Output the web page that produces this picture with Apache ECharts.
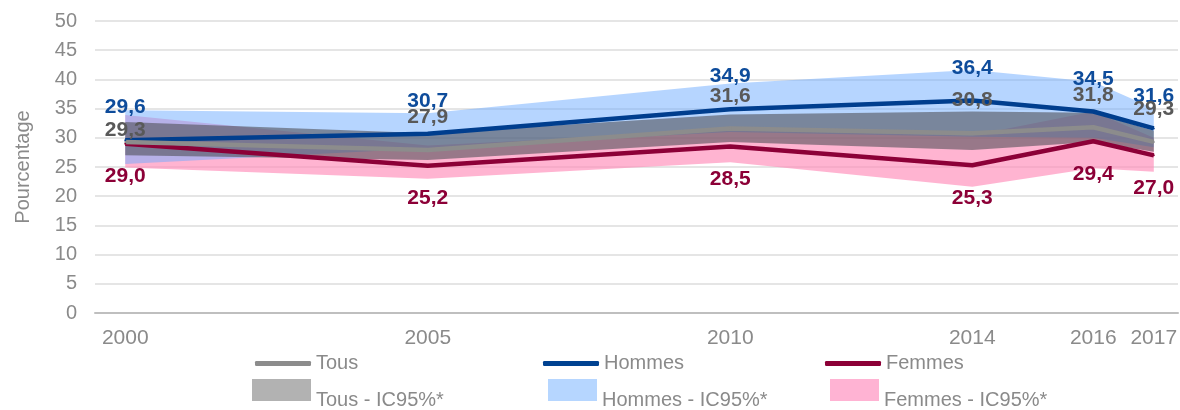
<!DOCTYPE html>
<html>
<head>
<meta charset="utf-8">
<script src="https://cdn.jsdelivr.net/npm/echarts@6/dist/echarts.min.js"></script>
<style>
html,body{margin:0;padding:0;background:#fff;}
#chart{width:1180px;height:410px;}
</style>
</head>
<body>
<div id="chart"></div>
<script>
// ---- data ----
const years = [2000, 2005, 2010, 2014, 2016, 2017];
const tickYears = [2000, 2005, 2010, 2014, 2016, 2017];
const tous = [29.3, 27.9, 31.6, 30.8, 31.8, 29.3];
const hommes = [29.6, 30.7, 34.9, 36.4, 34.5, 31.6];
const femmes = [29.0, 25.2, 28.5, 25.3, 29.4, 27.0];
const tousLow = [27.0, 26.2, 29.3, 27.9, 29.3, 27.6];
const tousHigh = [32.7, 30.8, 34.0, 34.5, 34.3, 31.2];
const hommesLow = [25.5, 28.2, 31.0, 30.2, 30.0, 28.4];
const hommesHigh = [34.7, 34.2, 39.3, 41.6, 39.6, 35.0];
const femmesLow = [24.9, 23.0, 25.8, 21.6, 24.8, 24.2];
const femmesHigh = [33.9, 28.7, 31.3, 30.4, 34.5, 30.0];

const FONT = '"Liberation Sans", Arial, sans-serif';
const TXT = '#8a8a8a';

function pts(vals) { return years.map((y, i) => [y, vals[i]]); }
const fmt = p => p.value[1].toFixed(1).replace('.', ',');

function band(name, lo, hi, color) {
  return {
    type: 'custom', name: name, silent: true,
    data: years.map((y, i) => [y, lo[i], hi[i]]),
    encode: { x: 0, y: [1, 2] },
    itemStyle: { color: color },
    renderItem: function (params, api) {
      if (params.dataIndex !== 0) return;
      const top = years.map((y, i) => api.coord([y, hi[i]]));
      const bot = years.map((y, i) => api.coord([y, lo[i]])).reverse();
      return { type: 'polygon', shape: { points: top.concat(bot) }, style: { fill: color } };
    },
    animation: false
  };
}
function line(name, vals, color, labelColor, pos, firstDist) {
  return {
    type: 'line', name: name,
    data: pts(vals).map((d, i) => (i === 0 && firstDist !== undefined)
      ? { value: d, label: { distance: firstDist } } : { value: d }),
    symbol: 'circle', symbolSize: 2, showSymbol: true,
    itemStyle: { color: color },
    lineStyle: { color: color, width: 4.5 },
    label: { show: true, position: pos, distance: 21, formatter: fmt,
      color: labelColor, fontFamily: FONT, fontWeight: 'bold', fontSize: 21 },
    animation: false
  };
}

const series = [
  band('Femmes - IC95%*', femmesLow, femmesHigh, 'rgba(255,140,185,0.65)'),
  band('Hommes - IC95%*', hommesLow, hommesHigh, 'rgba(110,172,255,0.5)'),
  line('Femmes', femmes, '#8c0037', '#8c0037', 'bottom'),
  line('Hommes', hommes, '#003e8e', '#0e4c9b', 'top'),
  band('Tous - IC95%*', tousLow, tousHigh, 'rgba(78,78,84,0.58)'),
  line('Tous', tous, '#8c8c8c', '#595959', 'top', 0)
];

function leg(name, icon, w, h, color, left, top, twoLine) {
  return {
    data: [{ name: name, icon: icon, itemStyle: { color: color, borderWidth: 0 } }],
    left: left, top: top, padding: 0, itemWidth: w, itemHeight: h, itemGap: 0,
    selectedMode: false,
    formatter: twoLine ? (n => '\n' + n) : (n => n),
    textStyle: { color: TXT, fontFamily: FONT, fontSize: 20, lineHeight: twoLine ? 20 : 23 }
  };
}

const option = {
  animation: false,
  backgroundColor: '#fff',
  grid: { left: 95, right: 2, top: 21, bottom: 97, containLabel: false, outerBoundsMode: 'none' },
  xAxis: {
    type: 'value', min: 1999.5, max: 2017.4,
    axisLine: { show: true, lineStyle: { color: '#bfbfbf', width: 2 } },
    axisTick: { show: false },
    splitLine: { show: false },
    axisLabel: { customValues: tickYears, color: TXT, fontFamily: FONT, fontSize: 21, margin: 15,
      formatter: v => String(v) }
  },
  yAxis: {
    type: 'value', min: 0, max: 50, interval: 5,
    name: 'Pourcentage', nameLocation: 'middle', nameGap: 62, nameRotate: 90,
    nameTextStyle: { color: TXT, fontFamily: FONT, fontSize: 20 },
    axisLine: { show: false }, axisTick: { show: false },
    splitLine: { lineStyle: { color: '#dcdcdc', width: 1.5 } },
    axisLabel: { color: TXT, fontFamily: FONT, fontSize: 20, margin: 18 }
  },
  legend: [
    leg('Tous', 'roundRect', 56, 5, '#8c8c8c', 255, 352, false),
    leg('Hommes', 'roundRect', 56, 5, '#004291', 543, 352, false),
    leg('Femmes', 'roundRect', 56, 5, '#8c0037', 825, 352, false),
    leg('Tous - IC95%*', 'rect', 59, 22, '#b2b2b2', 252, 370, true),
    leg('Hommes - IC95%*', 'rect', 49, 22, '#b6d6ff', 548, 370, true),
    leg('Femmes - IC95%*', 'rect', 49, 22, '#ffb3d3', 830, 370, true)
  ],
  series: series
};

const chart = echarts.init(document.getElementById('chart'), null, { renderer: 'canvas' });
chart.setOption(option);
</script>
</body>
</html>
